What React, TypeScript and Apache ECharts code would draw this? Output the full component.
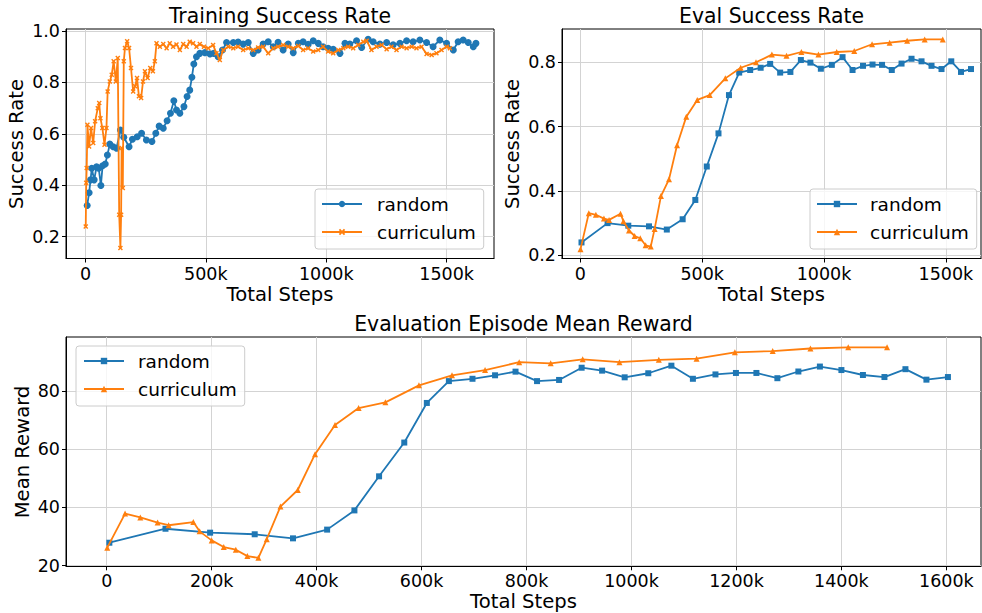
import React, { useEffect, useRef } from 'react';
import * as echarts from 'echarts';

const FONT = 'DejaVu Sans';
const C_RANDOM = '#1f77b4';
const C_CURR = '#ff7f0e';

// Training success rate (steps in thousands)
const trainRandomSteps = [7,15,21,26,36,46,55,64,71,82,91,101,115,129,145,159,181,195,215,233,253,276,292,306,323,339,353,367,378,392,409,422,433,442,450,461,475,496,517,533,551,569,586,614,634,655,676,697,717,738,759,780,800,821,842,863,884,904,925,946,967,987,1008,1029,1057,1078,1098,1126,1147,1174,1195,1223,1251,1278,1306,1334,1361,1389,1417,1444,1472,1500,1528,1548,1569,1590,1611,1622];
const trainRandomRate = [0.321,0.371,0.421,0.466,0.421,0.472,0.466,0.399,0.476,0.483,0.518,0.56,0.55,0.544,0.615,0.587,0.55,0.579,0.589,0.602,0.576,0.57,0.602,0.63,0.622,0.651,0.68,0.729,0.693,0.68,0.706,0.745,0.77,0.82,0.872,0.9,0.913,0.916,0.911,0.913,0.9,0.926,0.955,0.955,0.957,0.949,0.955,0.913,0.926,0.949,0.958,0.939,0.956,0.926,0.949,0.916,0.952,0.958,0.948,0.962,0.952,0.939,0.933,0.929,0.913,0.952,0.949,0.962,0.936,0.968,0.958,0.949,0.955,0.946,0.952,0.962,0.958,0.965,0.955,0.939,0.965,0.952,0.926,0.958,0.965,0.955,0.939,0.952];

const trainCurrSteps = [1,3,5,8,15,23,32,40,51,57,62,70,79,87,92,101,109,117,126,134,140,145,148,150,155,159,164,173,181,189,198,206,214,222,231,239,247,258,269,280,288,295,309,323,337,350,364,378,392,406,420,433,447,461,475,492,510,530,544,558,572,593,614,634,655,676,697,717,738,759,780,800,821,842,863,884,904,925,946,967,987,1008,1029,1050,1071,1091,1112,1133,1154,1168,1188,1209,1230,1251,1271,1292,1313,1334,1355,1375,1396,1417,1438,1458,1479,1500,1514];
const trainCurrRate = [0.24,0.41,0.467,0.635,0.551,0.623,0.564,0.649,0.7,0.72,0.661,0.623,0.558,0.623,0.765,0.804,0.83,0.882,0.804,0.895,0.285,0.156,0.285,0.545,0.389,0.882,0.934,0.96,0.934,0.856,0.765,0.785,0.817,0.746,0.739,0.804,0.843,0.817,0.856,0.843,0.882,0.952,0.939,0.949,0.933,0.952,0.939,0.948,0.926,0.949,0.939,0.958,0.952,0.939,0.949,0.939,0.933,0.946,0.913,0.887,0.926,0.939,0.933,0.939,0.926,0.933,0.926,0.936,0.939,0.913,0.933,0.939,0.946,0.939,0.933,0.942,0.926,0.933,0.92,0.926,0.939,0.92,0.913,0.926,0.933,0.939,0.933,0.946,0.958,0.962,0.926,0.939,0.946,0.929,0.939,0.926,0.939,0.933,0.939,0.933,0.939,0.911,0.907,0.913,0.926,0.939,0.933];

// Evaluation (steps in thousands)
const evalRandomSteps = [5,112,197,282,355,420,472,519,567,610,652,697,740,779,820,862,905,944,987,1032,1076,1117,1160,1199,1238,1278,1318,1359,1400,1441,1482,1522,1562,1603];
const evalRandomSuccess = [0.24,0.3,0.292,0.29,0.28,0.312,0.372,0.476,0.579,0.698,0.768,0.776,0.783,0.795,0.768,0.77,0.807,0.799,0.78,0.792,0.816,0.776,0.789,0.793,0.792,0.776,0.796,0.811,0.803,0.789,0.779,0.803,0.77,0.779];
const evalRandomReward = [27.9,32.7,31.35,30.8,29.4,32.4,39.0,50.7,62.3,75.9,83.4,84.2,85.4,86.65,83.4,83.8,88.0,87.0,84.7,86.1,88.7,84.2,85.7,86.2,86.2,84.4,86.7,88.4,87.2,85.5,84.8,87.5,83.9,84.8];

const evalCurrSteps = [1,35,64,97,118,165,177,200,223,246,268,289,305,331,364,397,435,480,531,595,658,721,786,846,907,977,1052,1124,1197,1269,1341,1413,1487];
const evalCurrSuccess = [0.219,0.331,0.326,0.314,0.31,0.329,0.306,0.277,0.26,0.253,0.231,0.227,0.282,0.384,0.436,0.542,0.631,0.683,0.698,0.75,0.783,0.8,0.824,0.82,0.832,0.824,0.832,0.835,0.856,0.861,0.867,0.871,0.871];
const evalCurrReward = [26.2,37.9,36.6,34.8,33.9,35.0,31.8,28.7,26.4,25.5,23.3,22.7,29.1,40.3,46.0,58.3,68.3,74.15,76.1,81.95,85.4,87.2,89.9,89.5,90.9,89.9,90.7,91.1,93.3,93.7,94.6,95.0,95.0];

// Tick values
const stepTicksTop = [0, 500000, 1000000, 1500000];
const stepTicksBottom = [0, 200000, 400000, 600000, 800000, 1000000, 1200000, 1400000, 1600000];
const trainRateTicks = [0.2, 0.4, 0.6, 0.8, 1.0];
const evalRateTicks = [0.2, 0.4, 0.6, 0.8];
const rewardTicks = [20, 40, 60, 80];

const X_MARK = 'path://M0,2L2,0L5,3L8,0L10,2L7,5L10,8L8,10L5,7L2,10L0,8L3,5Z';
const TICK_FS = 17.5;

const zip = (xs: number[], ys: number[]) => xs.map((x, i) => [x * 1000, ys[i]]);
const fmtK = (v: number) => (v === 0 ? '0' : `${Math.round(v / 1000)}k`);

function xAxis(gridIndex: number, min: number, max: number, ticks: number[]) {
  return {
    type: 'value', gridIndex, min, max,
    axisLine: { show: true, onZero: false, lineStyle: { color: '#000', width: 1 } },
    axisTick: { show: true, customValues: ticks, length: 4, lineStyle: { color: '#000', width: 1 } },
    axisLabel: { customValues: ticks, formatter: fmtK, fontSize: TICK_FS, color: '#000', fontFamily: FONT, margin: 6 },
    splitLine: { show: true, lineStyle: { color: '#d3d3d3', width: 1 } },
  };
}
function yAxis(gridIndex: number, min: number, max: number, ticks: number[], fmt: (v: number) => string) {
  return {
    type: 'value', gridIndex, min, max,
    axisLine: { show: true, onZero: false, lineStyle: { color: '#000', width: 1 } },
    axisTick: { show: true, customValues: ticks, length: 4, lineStyle: { color: '#000', width: 1 } },
    axisLabel: { customValues: ticks, formatter: fmt, fontSize: TICK_FS, color: '#000', fontFamily: FONT, margin: 6 },
    splitLine: { show: true, lineStyle: { color: '#d3d3d3', width: 1 } },
  };
}

function legend(left: number, top: number, names: string[], textPad: number, pad: number[]) {
  return {
    data: names, left, top, orient: 'vertical', selectedMode: false,
    formatter: (n: string) => n.split('_')[0],
    itemWidth: 40, itemHeight: 8, itemGap: 8, padding: pad,
    textStyle: { fontSize: 18.5, fontFamily: FONT, color: '#000', lineHeight: 20, padding: [0, 0, 0, textPad] },
    backgroundColor: 'rgba(255,255,255,0.8)', borderColor: '#cccccc', borderWidth: 1, borderRadius: 3,
  };
}

function text(t: string, x: number, y: number, size: number, rot = 0) {
  return {
    type: 'text', x, y, rotation: rot, silent: true,
    style: { text: t, fill: '#000', font: `${size}px "${FONT}"`, align: 'center', verticalAlign: 'middle', textAlign: 'center', textVerticalAlign: 'middle' },
  };
}

function lineSeries(name: string, xi: number, data: number[][], color: string, symbol: string, size: number, z: number) {
  return {
    name, type: 'line', xAxisIndex: xi, yAxisIndex: xi, data, symbol, symbolSize: size,
    showSymbol: true, showAllSymbol: true,
    lineStyle: { width: 1.8, color }, itemStyle: { color }, z,
  };
}

export default function App() {
  const ref = useRef<HTMLDivElement>(null);
  useEffect(() => {
    document.body.style.margin = '0';
    const chart = echarts.init(ref.current!, null, { renderer: 'svg' });
    const option: any = {
      animation: false,
      backgroundColor: '#fff',
      textStyle: { fontFamily: FONT },
      grid: [
        { left: 66, top: 29, width: 428, height: 229.5, show: true, borderColor: '#000', borderWidth: 1 },
        { left: 562, top: 29, width: 419, height: 229.5, show: true, borderColor: '#000', borderWidth: 1 },
        { left: 66, top: 337, width: 915, height: 229.3, show: true, borderColor: '#000', borderWidth: 1 },
      ],
      xAxis: [
        xAxis(0, -81000, 1697000, stepTicksTop),
        xAxis(1, -75000, 1644000, stepTicksTop),
        xAxis(2, -77600, 1666000, stepTicksBottom),
      ],
      yAxis: [
        yAxis(0, 0.1152, 1.0078, trainRateTicks, (v) => v.toFixed(1)),
        yAxis(1, 0.19, 0.9035, evalRateTicks, (v) => v.toFixed(1)),
        yAxis(2, 19.8, 98.55, rewardTicks, (v) => String(Math.round(v))),
      ],
      legend: [
        legend(315, 189, ['random_train', 'curriculum_train'], 10, [5, 8, 7, 6]),
        legend(810, 189, ['random_eval', 'curriculum_eval'], 8, [5, 8, 7, 6]),
        legend(76, 346, ['random_reward', 'curriculum_reward'], 9, [5, 8, 7, 7]),
      ],
      series: [
        lineSeries('random_train', 0, zip(trainRandomSteps, trainRandomRate), C_RANDOM, 'circle', 7, 2),
        lineSeries('curriculum_train', 0, zip(trainCurrSteps, trainCurrRate), C_CURR, X_MARK, 5, 3),
        lineSeries('random_eval', 1, zip(evalRandomSteps, evalRandomSuccess), C_RANDOM, 'rect', 6, 2),
        lineSeries('curriculum_eval', 1, zip(evalCurrSteps, evalCurrSuccess), C_CURR, 'triangle', 6, 3),
        lineSeries('random_reward', 2, zip(evalRandomSteps, evalRandomReward), C_RANDOM, 'rect', 6, 2),
        lineSeries('curriculum_reward', 2, zip(evalCurrSteps, evalCurrReward), C_CURR, 'triangle', 6, 3),
      ],
      graphic: [
        text('Training Success Rate', 280, 16, 20.4),
        text('Eval Success Rate', 771.5, 16, 20.4),
        text('Evaluation Episode Mean Reward', 523.5, 324, 20.4),
        text('Total Steps', 280, 294, 19.6),
        text('Total Steps', 771.5, 294, 19.6),
        text('Total Steps', 523.5, 601, 19.6),
        text('Success Rate', 16.5, 144, 19.6, Math.PI / 2),
        text('Success Rate', 512, 144, 19.6, Math.PI / 2),
        text('Mean Reward', 22.5, 452, 19.6, Math.PI / 2),
      ],
    };
    chart.setOption(option);
    return () => chart.dispose();
  }, []);
  return <div ref={ref} style={{ width: 982, height: 613 }} />;
}
